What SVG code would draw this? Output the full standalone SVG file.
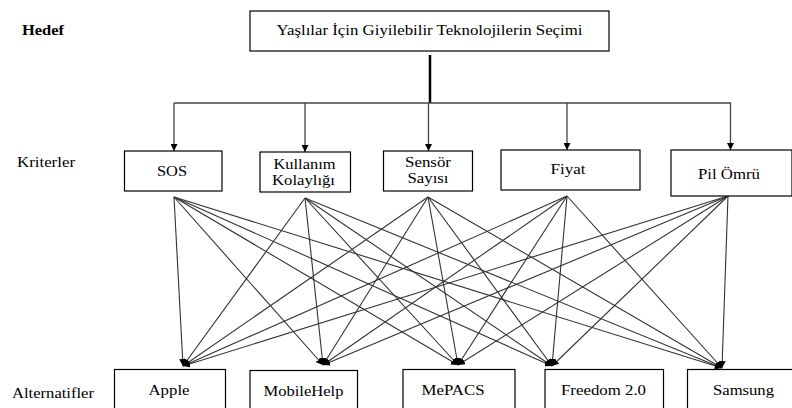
<svg xmlns="http://www.w3.org/2000/svg" width="792" height="408" viewBox="0 0 792 408">
<style>
.box{fill:#fff;stroke:#000;stroke-width:1.2}
text{font-family:'Liberation Serif','Times New Roman',serif;font-size:14px;fill:#000}
.t{text-anchor:middle}
.c{stroke:#333;stroke-width:1.1;fill:none;marker-end:url(#ah)}
.d{stroke:#444;stroke-width:1.3;fill:none;marker-end:url(#ah)}
</style>
<defs>
<marker id="ah" viewBox="0 0 10 10" refX="10" refY="5" markerWidth="7" markerHeight="7" markerUnits="userSpaceOnUse" orient="auto">
<path d="M0,0 L10,5 L0,10 z" fill="#000"/>
</marker>
</defs>

<text x="22" y="35" textLength="42" lengthAdjust="spacingAndGlyphs" font-weight="bold">Hedef</text>
<text x="17" y="166.5" textLength="58" lengthAdjust="spacingAndGlyphs">Kriterler</text>
<text x="12" y="398" textLength="82" lengthAdjust="spacingAndGlyphs">Alternatifler</text>

<g id="connectors">
<path d="M430,55 V103" stroke="#000" stroke-width="2.5" fill="none"/>
<path d="M174,103 H731" stroke="#444" stroke-width="1.3" fill="none"/>
<path class="d" d="M174,103 V151"/>
<path class="d" d="M305,103 V152"/>
<path class="d" d="M428.5,103 V151"/>
<path class="d" d="M567,103 V150"/>
<path class="d" d="M730.5,103 V150"/>

<path class="c" d="M174,197 L183,366"/>
<path class="c" d="M174,197 L323,365"/>
<path class="c" d="M174,197 L458,365"/>
<path class="c" d="M174,197 L552,366"/>
<path class="c" d="M174,197 L722,368"/>

<path class="c" d="M305,198 L183,366"/>
<path class="c" d="M305,198 L323,365"/>
<path class="c" d="M305,198 L458,365"/>
<path class="c" d="M305,198 L552,366"/>
<path class="c" d="M305,198 L722,368"/>

<path class="c" d="M428,197 L183,366"/>
<path class="c" d="M428,197 L323,365"/>
<path class="c" d="M428,197 L458,365"/>
<path class="c" d="M428,197 L552,366"/>
<path class="c" d="M428,197 L722,368"/>

<path class="c" d="M567,196 L183,366"/>
<path class="c" d="M567,196 L323,365"/>
<path class="c" d="M567,196 L458,365"/>
<path class="c" d="M567,196 L552,366"/>
<path class="c" d="M567,196 L722,368"/>

<path class="c" d="M728,196 L183,366"/>
<path class="c" d="M728,196 L323,365"/>
<path class="c" d="M728,196 L458,365"/>
<path class="c" d="M728,196 L552,366"/>
<path class="c" d="M728,196 L722,368"/>
</g>

<g id="goal">
<rect class="box" x="250" y="11" width="359" height="40"/>
<text class="t" x="429.5" y="34.5" textLength="306" lengthAdjust="spacingAndGlyphs">Yaşlılar İçin Giyilebilir Teknolojilerin Seçimi</text>
</g>

<g id="c-sos">
<rect class="box" x="124.5" y="151" width="97.5" height="40"/>
<text class="t" x="172" y="176" textLength="30" lengthAdjust="spacingAndGlyphs">SOS</text>
</g>
<g id="c-kullanim">
<rect class="box" x="260" y="152" width="90.5" height="40"/>
<text class="t" x="304.5" y="169" textLength="62" lengthAdjust="spacingAndGlyphs">Kullanım</text>
<text class="t" x="303.5" y="185" textLength="63" lengthAdjust="spacingAndGlyphs">Kolaylığı</text>
</g>
<g id="c-sensor">
<rect class="box" x="383.5" y="151" width="89" height="40"/>
<text class="t" x="428" y="166.5" textLength="46" lengthAdjust="spacingAndGlyphs">Sensör</text>
<text class="t" x="428" y="182.5" textLength="41" lengthAdjust="spacingAndGlyphs">Sayısı</text>
</g>
<g id="c-fiyat">
<rect class="box" x="501" y="150" width="139" height="40"/>
<text class="t" x="568" y="173.5" textLength="35" lengthAdjust="spacingAndGlyphs">Fiyat</text>
</g>
<g id="c-pil">
<rect class="box" x="671" y="150" width="121" height="46"/>
<text class="t" x="729" y="178.5" textLength="62" lengthAdjust="spacingAndGlyphs">Pil Ömrü</text>
</g>

<g id="a-apple">
<rect class="box" x="114.5" y="369.5" width="111" height="45"/>
<text class="t" x="169" y="395" textLength="41" lengthAdjust="spacingAndGlyphs">Apple</text>
</g>
<g id="a-mobilehelp">
<rect class="box" x="250" y="370.5" width="107.5" height="45"/>
<text class="t" x="303.5" y="395.5" textLength="80" lengthAdjust="spacingAndGlyphs">MobileHelp</text>
</g>
<g id="a-mepacs">
<rect class="box" x="403" y="369.5" width="112" height="45"/>
<text class="t" x="453" y="394.5" textLength="63" lengthAdjust="spacingAndGlyphs">MePACS</text>
</g>
<g id="a-freedom">
<rect class="box" x="545" y="369.5" width="118.5" height="45"/>
<text class="t" x="603.5" y="394.5" textLength="85" lengthAdjust="spacingAndGlyphs">Freedom 2.0</text>
</g>
<g id="a-samsung">
<rect class="box" x="687.5" y="369.5" width="112" height="45"/>
<text class="t" x="743.5" y="395" textLength="61" lengthAdjust="spacingAndGlyphs">Samsung</text>
</g>
</svg>
